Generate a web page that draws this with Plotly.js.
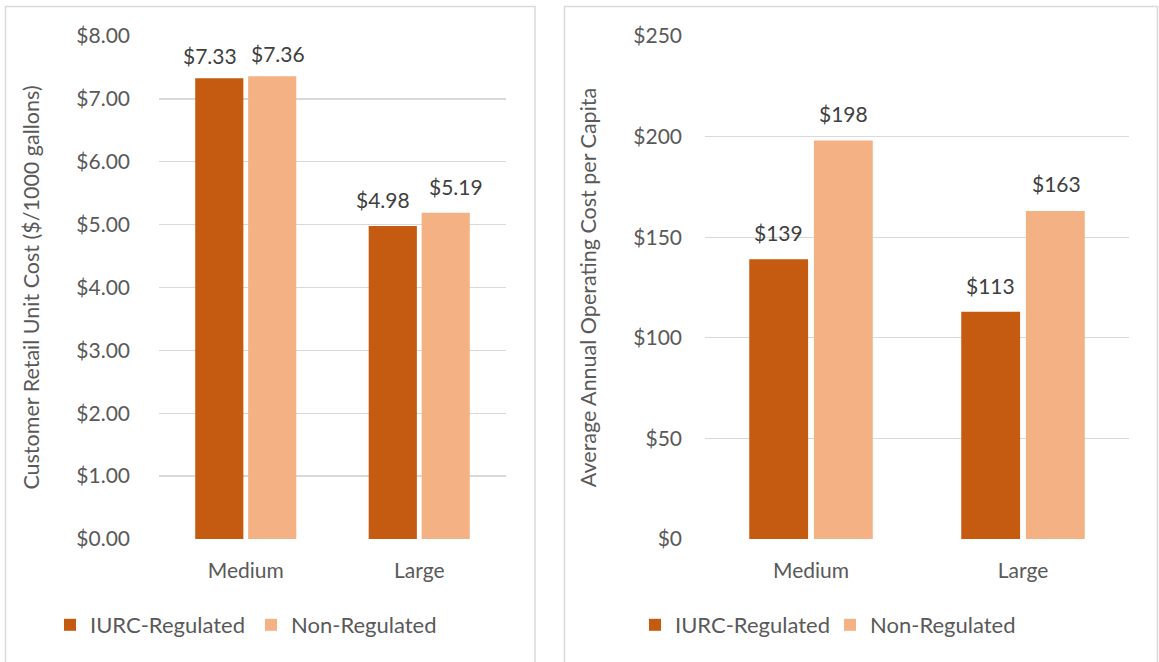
<!DOCTYPE html>
<html>
<head>
<meta charset="utf-8">
<script src="https://cdn.plot.ly/plotly-3.0.1.min.js"></script>
<style>
html,body{margin:0;padding:0;background:#fff;}
#chart{width:1159px;height:662px;}
</style>
</head>
<body>
<div id="chart"></div>
<script>
const categories = ["Medium", "Large"];
const seriesNames = ["IURC-Regulated", "Non-Regulated"];
const unitCostIURC = [7.33, 4.98];
const unitCostNon = [7.36, 5.19];
const perCapitaIURC = [139, 113];
const perCapitaNon = [198, 163];
const leftTicks = [0, 1, 2, 3, 4, 5, 6, 7, 8];
const leftTickText = ["$0.00", "$1.00", "$2.00", "$3.00", "$4.00", "$5.00", "$6.00", "$7.00", "$8.00"];
const rightTicks = [0, 50, 100, 150, 200, 250];
const rightTickText = ["$0", "$50", "$100", "$150", "$200", "$250"];

const C1 = "#C55A11", C2 = "#F4B183";
const FONT = "Lato, 'Open Sans', sans-serif";
const TXT = "#595959";
const W = 1159, H = 662;
const px = v => v / W, py = v => 1 - v / H;

function bar(x, y, name, color, xa, ya, lg) {
  return {
    type: "bar", x: x, y: y, name: name, xaxis: xa, yaxis: ya, legend: lg,
    marker: {color: color}, hoverinfo: "skip"
  };
}

const data = [
  bar(categories, unitCostIURC, seriesNames[0], C1, "x", "y", "legend"),
  bar(categories, unitCostNon, seriesNames[1], C2, "x", "y", "legend"),
  bar(categories, perCapitaIURC, seriesNames[0], C1, "x2", "y2", "legend2"),
  bar(categories, perCapitaNon, seriesNames[1], C2, "x2", "y2", "legend2")
];

// Data labels: placed at each bar's value through the axes, with pixel offsets (label placement as in the original)
const labelSets = [
  {vals: unitCostIURC, xa: "x", ya: "y", fmt: v => "$" + v.toFixed(2), dx: [-36, -36], dy: [8, 12]},
  {vals: unitCostNon, xa: "x", ya: "y", fmt: v => "$" + v.toFixed(2), dx: [32, 37], dy: [8, 12]},
  {vals: perCapitaIURC, xa: "x2", ya: "y2", fmt: v => "$" + v.toFixed(0), dx: [-32.5, -32.5], dy: [12, 12]},
  {vals: perCapitaNon, xa: "x2", ya: "y2", fmt: v => "$" + v.toFixed(0), dx: [33, 33], dy: [13, 13]}
];
const annotations = [];
labelSets.forEach(s => {
  s.vals.forEach((v, i) => {
    annotations.push({
      xref: s.xa, yref: s.ya, x: categories[i], y: v, text: s.fmt(v),
      showarrow: false, xanchor: "center", yanchor: "bottom",
      xshift: s.dx[i], yshift: s.dy[i],
      font: {family: FONT, size: 21, color: "#404040"}
    });
  });
});

const yBase = {
  showgrid: true, gridcolor: "#D9D9D9", gridwidth: 1.3, zeroline: false, showline: false,
  ticks: "", tickfont: {family: FONT, size: 21, color: TXT},
  domain: [py(539), py(36)], fixedrange: true
};
const xBase = {
  showgrid: false, zeroline: false, showline: false, ticks: "",
  tickfont: {family: FONT, size: 21, color: TXT}, ticklabelstandoff: 17, fixedrange: true
};

const legBase = {
  orientation: "h", xanchor: "left", yanchor: "middle",
  font: {family: FONT, size: 22, color: TXT}, bgcolor: "rgba(0,0,0,0)",
  itemclick: false, itemdoubleclick: false, traceorder: "normal"
};

const layout = {
  width: W, height: H,
  margin: {l: 0, r: 0, t: 0, b: 0},
  paper_bgcolor: "#fff", plot_bgcolor: "#fff",
  barmode: "group", bargap: 0.39, bargroupgap: 0.09,
  font: {family: FONT, color: TXT},
  xaxis: Object.assign({}, xBase, {domain: [px(159), px(506)], anchor: "y"}),
  yaxis: Object.assign({}, yBase, {anchor: "x", range: [0, 8], tickvals: leftTicks, ticktext: leftTickText,
    ticklabelstandoff: 28,
    title: {text: "Customer Retail Unit Cost ($/1000 gallons)", font: {family: FONT, size: 21.5, color: TXT}, standoff: 30}}),
  xaxis2: Object.assign({}, xBase, {domain: [px(705), px(1129)], anchor: "y2"}),
  yaxis2: Object.assign({}, yBase, {anchor: "x2", range: [0, 250], tickvals: rightTicks, ticktext: rightTickText,
    ticklabelstandoff: 22,
    title: {text: "Average Annual Operating Cost per Capita", font: {family: FONT, size: 21.5, color: TXT}, standoff: 30}}),
  legend: Object.assign({}, legBase, {x: px(50), y: py(625), entrywidth: 156, entrywidthmode: "pixels"}),
  legend2: Object.assign({}, legBase, {x: px(635), y: py(625), entrywidth: 150, entrywidthmode: "pixels"}),
  annotations: annotations,
  shapes: [
    {type: "rect", xref: "paper", yref: "paper", x0: px(5.5), x1: px(535), y0: py(670), y1: py(6.5),
     line: {color: "#D9D9D9", width: 1.5}, fillcolor: "rgba(0,0,0,0)", layer: "below"},
    {type: "rect", xref: "paper", yref: "paper", x0: px(564.5), x1: px(1157.5), y0: py(670), y1: py(6.5),
     line: {color: "#D9D9D9", width: 1.5}, fillcolor: "rgba(0,0,0,0)", layer: "below"}
  ]
};

Plotly.newPlot("chart", data, layout, {displayModeBar: false, staticPlot: true});
</script>
</body>
</html>
